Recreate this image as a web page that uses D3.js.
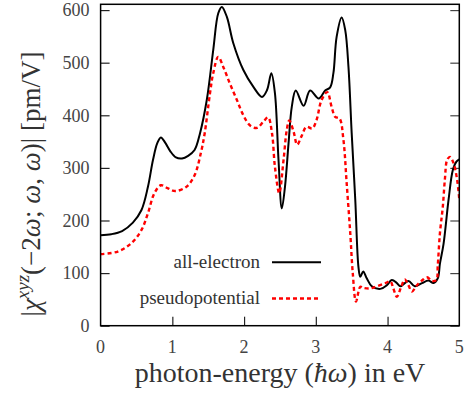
<!DOCTYPE html>
<html>
<head>
<meta charset="utf-8">
<script src="https://cdn.jsdelivr.net/npm/d3@7"></script>
<style>
  body { margin: 0; background: #fff; }
  text { font-family: "Liberation Serif", "Times New Roman", serif; }
</style>
</head>
<body>
<script>
// photon energy (eV) and |chi| (pm/V)
var aeE = [0.00, 0.15, 0.30, 0.45, 0.57, 0.66, 0.73, 0.79, 0.84, 0.90, 0.97, 1.05, 1.135, 1.22, 1.31, 1.386, 1.48, 1.57, 1.64, 1.69, 1.76, 1.85, 1.99, 2.13, 2.25, 2.32, 2.38, 2.43, 2.48, 2.526, 2.57, 2.62, 2.665, 2.72, 2.83, 2.92, 3.04, 3.13, 3.20, 3.245, 3.29, 3.36, 3.41, 3.455, 3.50, 3.55, 3.594, 3.62, 3.66, 3.71, 3.78, 3.90, 3.99, 4.06, 4.13, 4.18, 4.29, 4.38, 4.48, 4.57, 4.64, 4.70, 4.73, 4.78, 4.85, 4.91, 4.96, 5.00];
var aeV = [172, 174, 180, 196, 220, 264, 315, 347, 358, 348, 332, 320, 318, 323, 334, 366, 429, 524, 594, 606, 587, 537, 486, 454, 435, 448, 480, 442, 315, 223, 264, 347, 416, 447, 418, 447, 432, 447, 453, 480, 549, 586, 562, 492, 366, 239, 112, 93, 103, 90, 75, 70, 77, 87, 81, 75, 85, 75, 81, 86, 81, 90, 118, 155, 239, 296, 312, 316];

var ppE = [0.00, 0.24, 0.43, 0.57, 0.66, 0.75, 0.84, 0.94, 1.04, 1.195, 1.31, 1.40, 1.45, 1.525, 1.57, 1.64, 1.71, 1.80, 1.90, 1.99, 2.08, 2.18, 2.27, 2.335, 2.39, 2.43, 2.49, 2.55, 2.595, 2.63, 2.69, 2.74, 2.80, 2.87, 2.95, 3.01, 3.08, 3.16, 3.22, 3.27, 3.33, 3.385, 3.43, 3.48, 3.515, 3.56, 3.62, 3.66, 3.76, 3.85, 3.97, 4.04, 4.08, 4.13, 4.19, 4.24, 4.29, 4.34, 4.41, 4.48, 4.55, 4.62, 4.68, 4.70, 4.73, 4.77, 4.80, 4.83, 4.87, 4.92, 4.97, 5.00];
var ppV = [136, 141, 157, 182, 214, 252, 267, 261, 256, 264, 286, 330, 365, 442, 480, 511, 492, 461, 429, 400, 381, 376, 388, 396, 365, 302, 252, 315, 372, 390, 369, 344, 360, 378, 375, 391, 429, 444, 416, 397, 394, 353, 271, 176, 100, 46, 74, 72, 71, 75, 81, 84, 71, 55, 74, 88, 77, 65, 77, 86, 92, 85, 87, 115, 176, 226, 280, 315, 321, 309, 277, 240];

var xTicks = [0, 1, 2, 3, 4, 5];
var yTicks = [0, 100, 200, 300, 400, 500, 600];

var W = 471, H = 398;
var pLeft = 100.6, pTop = 4.3, pRight = 459.3, pBottom = 325.7;

var svg = d3.select("body").append("svg")
    .attr("width", W)
    .attr("height", H);

var x = d3.scaleLinear().domain([0, 5]).range([pLeft, pRight]);
var y = d3.scaleLinear().domain([0, 611]).range([pBottom, pTop]);

svg.append("clipPath").attr("id", "clip")
  .append("rect")
    .attr("x", pLeft).attr("y", pTop)
    .attr("width", pRight - pLeft).attr("height", pBottom - pTop);

// left axis, inward ticks
var yAxis = svg.append("g")
    .attr("transform", "translate(" + pLeft + ",0)")
    .call(d3.axisRight(y).tickValues(yTicks).tickSize(9).tickFormat(""));
yAxis.select(".domain").remove();
yAxis.selectAll("line").attr("stroke", "#222").attr("stroke-width", 1.2);

// right axis mirror ticks
var yAxisR = svg.append("g")
    .attr("transform", "translate(" + pRight + ",0)")
    .call(d3.axisLeft(y).tickValues(yTicks).tickSize(9).tickFormat(""));
yAxisR.select(".domain").remove();
yAxisR.selectAll("line").attr("stroke", "#444").attr("stroke-width", 1.2);

// bottom axis
var xAxis = svg.append("g")
    .attr("transform", "translate(0," + pBottom + ")")
    .call(d3.axisTop(x).tickValues(xTicks.slice(1, -1)).tickSize(9).tickFormat(""));
xAxis.select(".domain").remove();
xAxis.selectAll("line").attr("stroke", "#222").attr("stroke-width", 1.2);

// tick labels
svg.selectAll(".ylab")
  .data(yTicks)
  .enter().append("text")
    .attr("class", "ylab")
    .attr("x", pLeft - 11)
    .attr("y", d => y(d))
    .attr("dy", "0.35em")
    .attr("text-anchor", "end")
    .style("font-size", "18px")
    .style("fill", "#444")
    .text(d => d);

svg.selectAll(".xlab")
  .data(xTicks)
  .enter().append("text")
    .attr("class", "xlab")
    .attr("x", d => x(d))
    .attr("y", 353)
    .attr("text-anchor", "middle")
    .style("font-size", "18px")
    .style("fill", "#444")
    .text(d => d);

// curves
var line = d3.line()
    .x(d => x(d[0]))
    .y(d => y(d[1]))
    .curve(d3.curveCatmullRom.alpha(0.5));

var ae = d3.zip(aeE, aeV);
var pp = d3.zip(ppE, ppV);

var plot = svg.append("g").attr("clip-path", "url(#clip)");

plot.append("path")
    .datum(ae)
    .attr("d", line)
    .attr("fill", "none")
    .attr("stroke", "#000")
    .attr("stroke-width", 2);

plot.append("path")
    .datum(pp)
    .attr("d", line)
    .attr("fill", "none")
    .attr("stroke", "#f00")
    .attr("stroke-width", 2.4)
    .attr("stroke-dasharray", "4,3");

// frame
svg.append("rect")
    .attr("x", pLeft).attr("y", pTop)
    .attr("width", pRight - pLeft).attr("height", pBottom - pTop)
    .attr("fill", "none")
    .attr("stroke", "#000")
    .attr("stroke-width", 1.5);

// legend
var legend = [
  { name: "all-electron", color: "#000", dash: null, w: 2, yy: 262.3 },
  { name: "pseudopotential", color: "#f00", dash: "4,3", w: 2.4, yy: 298.5 }
];
legend.forEach(function(l) {
  svg.append("text")
      .attr("x", 260)
      .attr("y", l.yy)
      .attr("dy", "0.3em")
      .attr("text-anchor", "end")
      .style("font-size", "19px")
      .style("fill", "#333")
      .text(l.name);
  svg.append("line")
      .attr("x1", 272).attr("x2", 321)
      .attr("y1", l.yy).attr("y2", l.yy)
      .attr("stroke", l.color)
      .attr("stroke-width", l.w)
      .attr("stroke-dasharray", l.dash);
});

// axis titles
svg.append("text")
    .attr("x", 280)
    .attr("y", 382)
    .attr("text-anchor", "middle")
    .style("font-size", "28px")
    .style("fill", "#333")
    .html("photon-energy (<tspan font-style='italic'>ħω</tspan>) in eV");

var yt = svg.append("text")
    .attr("transform", "translate(40,184) rotate(-90)")
    .attr("text-anchor", "middle")
    .style("font-size", "27px")
    .style("fill", "#333");
yt.append("tspan").text("|");
yt.append("tspan").attr("font-style", "italic").text("χ");
yt.append("tspan").attr("font-style", "italic").attr("font-size", "19px").attr("dy", -11).text("xyz");
yt.append("tspan").attr("dy", 11).text("(−2");
yt.append("tspan").attr("font-style", "italic").text("ω");
yt.append("tspan").text("; ");
yt.append("tspan").attr("font-style", "italic").text("ω");
yt.append("tspan").text(", ");
yt.append("tspan").attr("font-style", "italic").text("ω");
yt.append("tspan").text(")| [pm/V]");
</script>
</body>
</html>
